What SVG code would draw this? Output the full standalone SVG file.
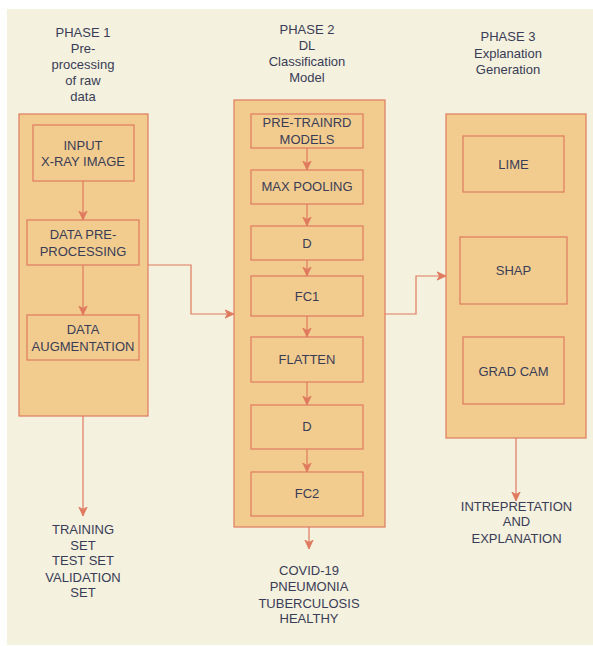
<svg xmlns="http://www.w3.org/2000/svg" width="593" height="646" viewBox="0 0 593 646">
<defs>
<style>
.box{fill:#F2CC8F;stroke:#E07A5F;stroke-width:1.2}
.t{font-family:"Liberation Sans",Arial,sans-serif;font-size:13px;fill:#393C56;text-anchor:middle}
.c{fill:none;stroke:#E07A5F;stroke-width:1.2}
</style>
<marker id="arr" markerUnits="userSpaceOnUse" markerWidth="10" markerHeight="10" refX="9" refY="5" orient="auto" viewBox="0 0 10 10">
<path d="M0,0.8 L9,5 L0,9.2 L2.5,5 Z" fill="#E07A5F" stroke="#E07A5F" stroke-width="0.8"/>
</marker>
</defs>
<rect x="7" y="9" width="586" height="636" fill="#F4F1DE"/>

<g id="phase1-title">
<text class="t" x="83" y="37">PHASE 1</text>
<text class="t" x="83" y="53">Pre-</text>
<text class="t" x="83" y="69">processing</text>
<text class="t" x="83" y="85">of raw</text>
<text class="t" x="83" y="101">data</text>
</g>
<g id="phase2-title">
<text class="t" x="307" y="34">PHASE 2</text>
<text class="t" x="307" y="49.5">DL</text>
<text class="t" x="307" y="66">Classification</text>
<text class="t" x="307" y="82">Model</text>
</g>
<g id="phase3-title">
<text class="t" x="508" y="41">PHASE 3</text>
<text class="t" x="508" y="57.5">Explanation</text>
<text class="t" x="508" y="74">Generation</text>
</g>

<g id="phase1"><rect class="box" x="19" y="114" width="129" height="302"/></g>
<g id="phase2"><rect class="box" x="234" y="100" width="151" height="427"/></g>
<g id="phase3"><rect class="box" x="446" y="114" width="140" height="324"/></g>

<g id="input"><rect class="box" x="33" y="125" width="101" height="56"/>
<text class="t" x="83" y="150">INPUT</text><text class="t" x="83" y="166">X-RAY IMAGE</text></g>
<g id="preprocessing"><rect class="box" x="27" y="220" width="112" height="45"/>
<text class="t" x="83" y="239">DATA PRE-</text><text class="t" x="83" y="255.5">PROCESSING</text></g>
<g id="augmentation"><rect class="box" x="27" y="315" width="112" height="45"/>
<text class="t" x="83" y="334">DATA</text><text class="t" x="83" y="350.5">AUGMENTATION</text></g>

<g id="pretrained"><rect class="box" x="251" y="114" width="112" height="34"/>
<text class="t" x="307" y="127">PRE-TRAINRD</text><text class="t" x="307" y="144">MODELS</text></g>
<g id="maxpool"><rect class="box" x="251" y="170" width="112" height="34"/>
<text class="t" x="307" y="191">MAX POOLING</text></g>
<g id="d1"><rect class="box" x="251" y="226" width="112" height="34"/>
<text class="t" x="307" y="247.5">D</text></g>
<g id="fc1"><rect class="box" x="251" y="276" width="112" height="40"/>
<text class="t" x="307" y="300.5">FC1</text></g>
<g id="flatten"><rect class="box" x="251" y="337" width="112" height="45"/>
<text class="t" x="307" y="364">FLATTEN</text></g>
<g id="d2"><rect class="box" x="251" y="405" width="112" height="44"/>
<text class="t" x="307" y="431">D</text></g>
<g id="fc2"><rect class="box" x="251" y="472" width="112" height="44"/>
<text class="t" x="307" y="498">FC2</text></g>

<g id="lime"><rect class="box" x="463" y="136" width="101" height="56"/>
<text class="t" x="513.5" y="169">LIME</text></g>
<g id="shap"><rect class="box" x="460" y="237" width="107" height="67"/>
<text class="t" x="513.5" y="275">SHAP</text></g>
<g id="gradcam"><rect class="box" x="463" y="337" width="101" height="67"/>
<text class="t" x="513.5" y="375.5">GRAD CAM</text></g>

<g id="out1">
<text class="t" x="83" y="534">TRAINING</text>
<text class="t" x="83" y="550">SET</text>
<text class="t" x="83" y="565">TEST SET</text>
<text class="t" x="83" y="582">VALIDATION</text>
<text class="t" x="83" y="597">SET</text>
</g>
<g id="out2">
<text class="t" x="309" y="575">COVID-19</text>
<text class="t" x="309" y="591">PNEUMONIA</text>
<text class="t" x="309" y="607.5">TUBERCULOSIS</text>
<text class="t" x="309" y="623">HEALTHY</text>
</g>
<g id="out3">
<text class="t" x="516.5" y="510.5">INTREPRETATION</text>
<text class="t" x="516.5" y="526">AND</text>
<text class="t" x="516.5" y="543">EXPLANATION</text>
</g>

<g id="connectors">
<path class="c" d="M83,181 V220" marker-end="url(#arr)"/>
<path class="c" d="M83,265 V315" marker-end="url(#arr)"/>
<path class="c" d="M148,265 H191 V314 H234" marker-end="url(#arr)"/>
<path class="c" d="M83,416 V516" marker-end="url(#arr)"/>
<path class="c" d="M307,148 V170" marker-end="url(#arr)"/>
<path class="c" d="M307,204 V226" marker-end="url(#arr)"/>
<path class="c" d="M307,260 V276" marker-end="url(#arr)"/>
<path class="c" d="M307,316 V337" marker-end="url(#arr)"/>
<path class="c" d="M307,382 V405" marker-end="url(#arr)"/>
<path class="c" d="M307,449 V472" marker-end="url(#arr)"/>
<path class="c" d="M309,527 V549" marker-end="url(#arr)"/>
<path class="c" d="M385,314 H416 V276 H446" marker-end="url(#arr)"/>
<path class="c" d="M516,438 V501" marker-end="url(#arr)"/>
</g>
</svg>
